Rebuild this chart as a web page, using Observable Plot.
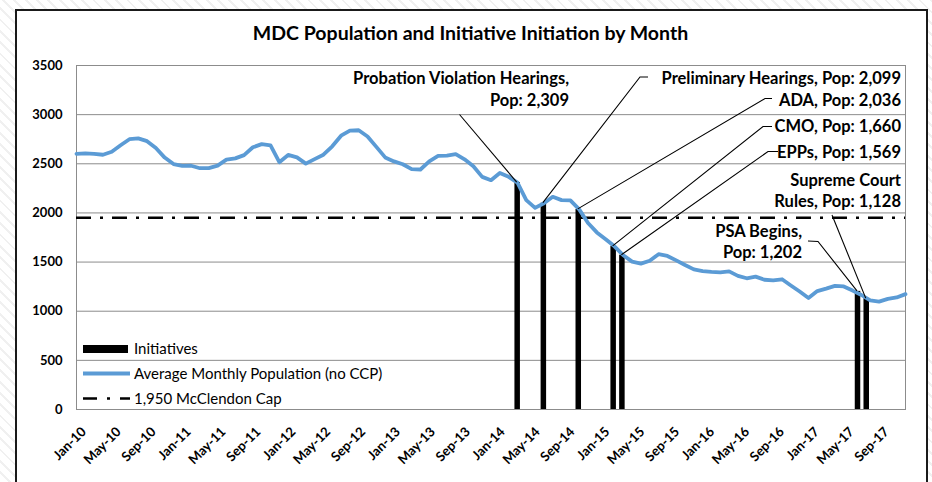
<!DOCTYPE html>
<html>
<head>
<meta charset="utf-8">
<script src="https://cdn.jsdelivr.net/npm/d3@7"></script>
<script src="https://cdn.jsdelivr.net/npm/@observablehq/plot@0.6"></script>
<style>
html, body { margin: 0; padding: 0; }
body {
  width: 932px; height: 482px; overflow: hidden; position: relative;
  background: repeating-linear-gradient(45deg, #ffffff 0px, #ffffff 6px, #f0f0f0 6px, #f0f0f0 8px);
  font-family: Lato, "Open Sans", sans-serif;
}
#frame { position: absolute; left: 15px; top: 9px; width: 909px; height: 500px; border: 2px solid #1a1a1a; background: #fff; }
#chart { position: absolute; left: 0; top: 0; }
</style>
</head>
<body>
<div id="frame"></div>
<div id="chart"></div>
<script>
// ---------------- data ----------------
const titleText = "MDC Population and Initiative Initiation by Month";
const monthStart = new Date(Date.UTC(2010, 0, 1));
const monthEnd = new Date(Date.UTC(2017, 11, 1));
const months = d3.utcMonth.range(monthStart, monthEnd).map(d3.utcFormat("%b-%y")); // Jan-10 .. Nov-17

const population = [
  2600, 2605, 2600, 2592, 2622, 2688, 2750, 2758, 2730, 2660,
  2563, 2497, 2478, 2480, 2455, 2456, 2481, 2542, 2555, 2588,
  2668, 2700, 2688, 2516, 2590, 2565, 2502, 2548, 2592, 2678,
  2786, 2838, 2841, 2778, 2672, 2565, 2524, 2495, 2445, 2442,
  2525, 2580, 2584, 2598, 2545, 2474, 2367, 2333, 2407, 2367,
  2309, 2130, 2052, 2099, 2164, 2130, 2128, 2036, 1897, 1802,
  1733, 1660, 1569, 1505, 1484, 1514, 1580, 1562, 1517, 1470,
  1426, 1408, 1400, 1396, 1405, 1360, 1335, 1352, 1320, 1313,
  1325, 1262, 1200, 1135, 1205, 1230, 1258, 1252, 1210, 1165,
  1110, 1098, 1125, 1140, 1174
];

const initiativeMonths = ["Mar-14", "Jun-14", "Oct-14", "Feb-15", "Mar-15", "Jun-17", "Jul-17"];
const initiativePop = [2309, 2099, 2036, 1660, 1569, 1202, 1128];
const initiativeLabels = [
  ["Probation Violation Hearings,", "Pop: 2,309"],
  ["Preliminary Hearings, Pop: 2,099"],
  ["ADA, Pop: 2,036"],
  ["CMO, Pop: 1,660"],
  ["EPPs, Pop: 1,569"],
  ["PSA Begins,", "Pop: 1,202"],
  ["Supreme Court", "Rules, Pop: 1,128"]
];
const capValue = 1950;
const yTicks = [0, 500, 1000, 1500, 2000, 2500, 3000, 3500];
const xTickLabels = months.filter((m, i) => i % 4 === 0);
const legendItems = ["Initiatives", "Average Monthly Population (no CCP)", "1,950 McClendon Cap"];

// ---------------- layout (pixels) ----------------
const blue = "#5B9BD5";
const font = "Lato, 'Open Sans', sans-serif";
const annoLayout = [
  { right: 569, base: [84, 105.5], leader: [[459.5, 114.5]] },
  { right: 901, base: [84], leader: [[648, 77], [640, 77]] },
  { right: 901, base: [105.5], leader: [[772, 98.5], [765, 98.5]] },
  { right: 901, base: [132], leader: [[772, 126.5], [763, 126.5]] },
  { right: 901, base: [157.5], leader: [[778, 151.5], [768, 151.5]] },
  { right: 802, base: [236.5, 258], leader: [[808, 241], [818, 241.5]] },
  { right: 901, base: [186, 207], leader: [[832, 215]] }
];

// ---------------- chart ----------------
const N = months.length;
const lineData = population.map((v, i) => ({ i, v }));
const barData = initiativeMonths.map((m, j) => ({ k: months.indexOf(m), v: initiativePop[j] }));
const tickIdx = xTickLabels.map(m => months.indexOf(m));

const chart = Plot.plot({
  width: 932, height: 482,
  marginLeft: 76, marginRight: 27, marginTop: 65, marginBottom: 73,
  x: { domain: [0, N], axis: null },
  y: { domain: [0, 3500], axis: null },
  style: { background: "transparent", fontFamily: font, color: "#000" },
  marks: [
    Plot.gridY(yTicks, { stroke: "#8c8c8c", strokeOpacity: 1, strokeWidth: 1 }),
    Plot.frame({ stroke: "#8c8c8c", strokeWidth: 1 }),
    Plot.text(yTicks, { y: d => d, text: d => String(d), frameAnchor: "left", textAnchor: "end", dx: -14, fontSize: 13, fontWeight: "bold", fill: "#000" }),
    Plot.text(tickIdx, { x: k => k + 0.5, text: k => months[k], frameAnchor: "bottom", rotate: -45, textAnchor: "end", dx: 6, dy: 23, fontSize: 13.2, fontWeight: "bold", fill: "#000" }),
    Plot.ruleX(barData, { x: d => d.k + 0.5, y1: 0, y2: "v", stroke: "#000", strokeWidth: 5.5 }),
    Plot.ruleY([capValue], { stroke: "#000", strokeWidth: 2.5, strokeDasharray: "15,9,3,9" }),
    Plot.line(lineData, { x: d => d.i * N / (N - 1), y: "v", stroke: blue, strokeWidth: 3.8, strokeLinejoin: "round", strokeLinecap: "round" })
  ]
});
document.getElementById("chart").appendChild(chart);

const svg = d3.select(chart);

// title
svg.append("text")
  .attr("x", 470.5).attr("y", 40)
  .attr("text-anchor", "middle")
  .attr("font-size", 19.5).attr("font-weight", "bold").attr("font-family", font)
  .attr("fill", "#000")
  .text(titleText);

// annotations: labels + leader lines to bar tops (via Plot scales)
const xs = chart.scale("x"), ys = chart.scale("y");
const g = svg.append("g").attr("class", "annotations");
barData.forEach((d, j) => {
  const lay = annoLayout[j];
  const end = [xs.apply(d.k + 0.5), ys.apply(d.v)];
  g.append("path")
    .attr("d", d3.line()(lay.leader.concat([end])))
    .attr("fill", "none").attr("stroke", "#000").attr("stroke-width", 1.1);
  initiativeLabels[j].forEach((t, li) => {
    g.append("text")
      .attr("x", lay.right).attr("y", lay.base[li])
      .attr("text-anchor", "end")
      .attr("font-size", 16.5).attr("font-weight", "bold").attr("font-family", font)
      .attr("fill", "#000")
      .text(t);
  });
});

// legend (inside plot area, bottom-left)
const lg = svg.append("g").attr("class", "legend");
const rowY = [349, 373.5, 398.5];
legendItems.forEach((name, j) => {
  const y = rowY[j];
  if (j === 0) lg.append("rect").attr("x", 83).attr("y", y - 4).attr("width", 45).attr("height", 8).attr("fill", "#000");
  if (j === 1) lg.append("line").attr("x1", 83).attr("x2", 130).attr("y1", y).attr("y2", y).attr("stroke", blue).attr("stroke-width", 3.8);
  if (j === 2) lg.append("line").attr("x1", 83).attr("x2", 130).attr("y1", y).attr("y2", y).attr("stroke", "#000").attr("stroke-width", 2.5).attr("stroke-dasharray", "14,10,3,10");
  lg.append("text").attr("x", 134).attr("y", y + 5)
    .attr("text-anchor", "start")
    .attr("font-size", 15).attr("font-family", font).attr("fill", "#000")
    .text(name);
});
</script>
</body>
</html>
